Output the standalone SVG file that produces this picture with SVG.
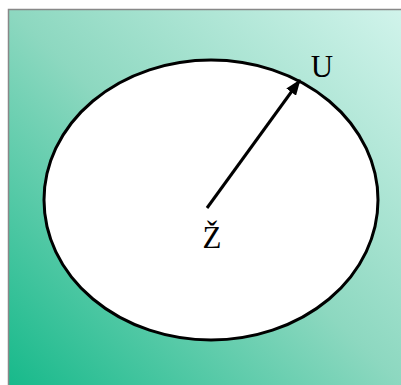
<svg xmlns="http://www.w3.org/2000/svg" width="401" height="385" viewBox="0 0 401 385">
<defs>
<linearGradient id="bg" x1="0" y1="1" x2="1" y2="0">
<stop offset="0" stop-color="#16b98a"/>
<stop offset="0.5" stop-color="#8dd8c0"/>
<stop offset="1" stop-color="#d2f4ec"/>
</linearGradient>
<marker id="ah" markerWidth="16" markerHeight="12" refX="15" refY="6" orient="auto" markerUnits="userSpaceOnUse" viewBox="0 0 16 12">
<path d="M0,0 L16,6 L0,12 Z" fill="#000"/>
</marker>
<style>
.lbl{font-family:"Liberation Serif","Times New Roman",serif;font-size:31px;fill:#000;text-anchor:middle}
</style>
</defs>
<rect x="8.5" y="9.5" width="400" height="380" fill="url(#bg)" stroke="#888" stroke-width="1.5"/>
<g id="set">
<ellipse cx="211" cy="200" rx="167" ry="140" fill="#fff" stroke="#000" stroke-width="3"/>
</g>
<g id="connectors">
<line x1="207" y1="208" x2="300" y2="80" stroke="#000" stroke-width="3" marker-end="url(#ah)"/>
</g>
<g id="center">
<text class="lbl" x="212" y="248">Ž</text>
</g>
<g id="boundary">
<text class="lbl" x="322" y="77">U</text>
</g>
</svg>
